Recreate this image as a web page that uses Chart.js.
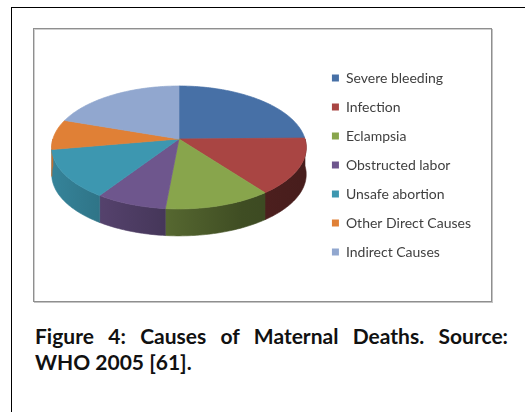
<!DOCTYPE html>
<html>
<head>
<meta charset="utf-8">
<script src="https://cdn.jsdelivr.net/npm/chart.js@4/dist/chart.umd.min.js"></script>
<style>
  html, body { margin: 0; padding: 0; background: #fff; width: 525px; height: 412px; overflow: hidden; }
  #frame { position: absolute; left: 11px; top: 7px; width: 600px; height: 500px;
           border-left: 1px solid #000; border-top: 1px solid #000; }
  #box { position: absolute; left: 33px; top: 28px; width: 457px; height: 272px;
         border: 1px solid #8f8f8f; box-shadow: inset 1px 1px 0 #cfcfcf, 1px 1px 0 #c4c4c4; background: #fff; }
  #box canvas { position: absolute; left: -1px; top: -1px; }
  .cap { position: absolute; left: 35px; width: 473px; font-family: Lato, sans-serif; font-weight: bold;
         font-size: 21px; line-height: 26px; color: #111; white-space: nowrap; }
  #cap1 { top: 323px; text-align: justify; text-align-last: justify; white-space: normal; }
  #cap2 { top: 349px; }
</style>
</head>
<body>
<div id="frame"></div>
<div id="box"><canvas id="c" width="459" height="274"></canvas></div>
<div class="cap" id="cap1">Figure 4: Causes of Maternal Deaths. Source:</div>
<div class="cap" id="cap2">WHO 2005 [61].</div>
<script>
// ---- data ----
const categories = ["Severe bleeding", "Infection", "Eclampsia", "Obstructed labor",
                    "Unsafe abortion", "Other Direct Causes", "Indirect Causes"];
const shares = [25, 15, 12, 8, 13, 8, 20];   // percent of maternal deaths
const sliceColors = ["#4770a6", "#a94543", "#88a54c", "#6e568d", "#3d97b0", "#e08036", "#91a7cf"];

// ---- 3D look (relative to library-computed radius) ----
const LOOK = { rx: 0.92, ry: 0.44, persp: 0.138, depth: 0.197, dy: -0.19 };

function hexToRgb(h) { const n = parseInt(h.slice(1), 16); return [(n >> 16) & 255, (n >> 8) & 255, n & 255]; }
function shade(h, f) { const c = hexToRgb(h).map(v => Math.round(v * f)); return `rgb(${c[0]},${c[1]},${c[2]})`; }

const pie3d = {
  id: 'pie3d',
  beforeDatasetsDraw(chart) {
    const ctx = chart.ctx;
    const meta = chart.getDatasetMeta(0);
    const arcs = meta.data;
    if (!arcs.length) return false;
    const R = arcs[0].outerRadius;
    const cx = arcs[0].x, cy = arcs[0].y + LOOK.dy * R;
    const RX = LOOK.rx * R, RY = LOOK.ry * R, P = LOOK.persp, D = LOOK.depth * R;
    const proj = (phi) => { const u = Math.cos(phi), v = Math.sin(phi), d = 1 - P * v; return [cx + RX * u / d, cy + RY * v / d]; };
    const colors = chart.data.datasets[0].backgroundColor;
    ctx.save();
    // side walls (front half: angles 0..PI)
    arcs.forEach((a, i) => {
      const a0 = Math.max(a.startAngle, 0), a1 = Math.min(a.endAngle, Math.PI);
      if (a1 <= a0) return;
      const N = Math.max(4, Math.ceil((a1 - a0) / 0.02));
      const top = [];
      for (let k = 0; k <= N; k++) top.push(proj(a0 + (a1 - a0) * k / N));
      const g = ctx.createLinearGradient(cx - RX, 0, cx + RX, 0);
      for (let k = 0; k <= 4; k++) {
        const u = -1 + k / 2;
        g.addColorStop(k / 4, shade(colors[i], Math.max(0.42, 0.6 - 0.27 * u)));
      }
      ctx.beginPath();
      ctx.moveTo(top[0][0], top[0][1]);
      top.forEach(p => ctx.lineTo(p[0], p[1]));
      for (let k = N; k >= 0; k--) ctx.lineTo(top[k][0], top[k][1] + D);
      ctx.closePath();
      ctx.fillStyle = g;
      ctx.fill();
      ctx.strokeStyle = g; ctx.lineWidth = 0.6; ctx.stroke();
    });
    // top face
    arcs.forEach((a, i) => {
      const s = a.startAngle, e = a.endAngle;
      const N = Math.max(4, Math.ceil((e - s) / 0.02));
      ctx.beginPath();
      ctx.moveTo(cx, cy);
      for (let k = 0; k <= N; k++) { const p = proj(s + (e - s) * k / N); ctx.lineTo(p[0], p[1]); }
      ctx.closePath();
      ctx.fillStyle = colors[i];
      ctx.fill();
      ctx.strokeStyle = colors[i]; ctx.lineWidth = 0.7; ctx.stroke();
    });
    ctx.restore();
    return false;
  }
};

new Chart(document.getElementById('c'), {
  type: 'pie',
  data: {
    labels: categories,
    datasets: [{ data: shares, backgroundColor: sliceColors, borderWidth: 0, hoverOffset: 0 }]
  },
  options: {
    responsive: false,
    animation: false,
    events: [],
    layout: { padding: { left: 8, right: 11, top: 0, bottom: 0 } },
    plugins: {
      tooltip: { enabled: false },
      legend: {
        position: 'right',
        labels: {
          boxWidth: 7, boxHeight: 7, padding: 15,
          color: '#3f3f3f',
          font: { family: 'Lato', size: 14 }
        }
      }
    }
  },
  plugins: [pie3d]
});
</script>
</body>
</html>
